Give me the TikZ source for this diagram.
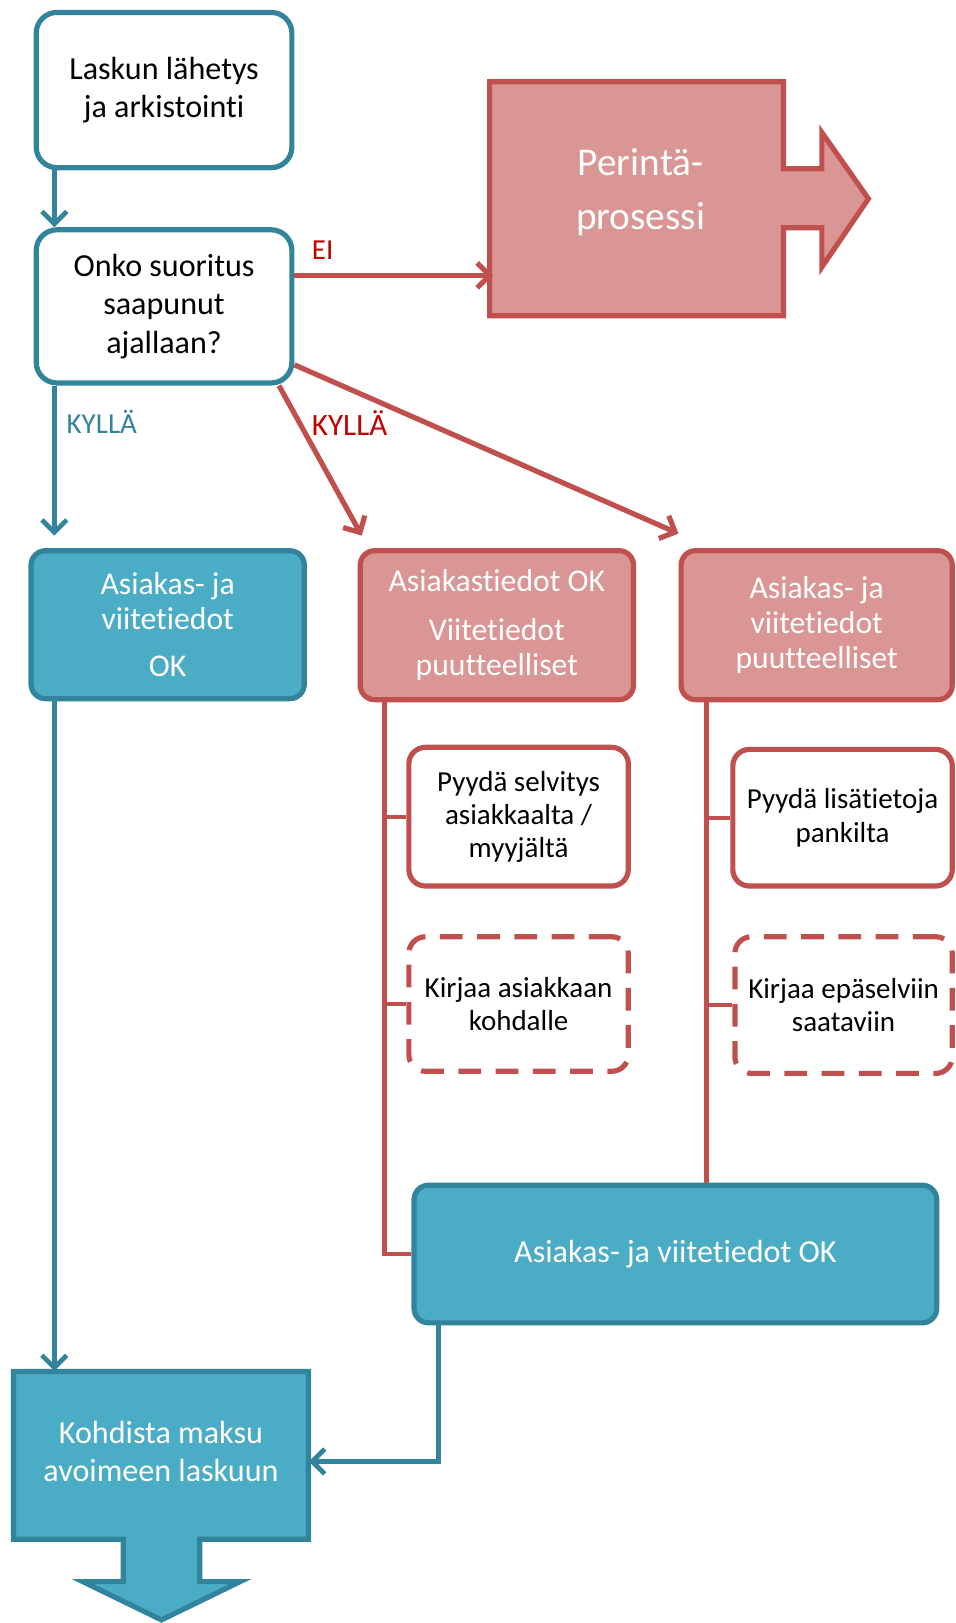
\documentclass[tikz,border=0pt]{standalone}
\usepackage{fontspec}
\setmainfont{Carlito}[Ligatures={NoCommon}]
\usetikzlibrary{arrows.meta}
\definecolor{blueS}{HTML}{31849B}
\definecolor{blueF}{HTML}{4BACC6}
\definecolor{redS}{HTML}{C0504D}
\definecolor{redF}{HTML}{D99694}
\definecolor{lblR}{HTML}{C00000}
\tikzset{
  wbox/.style={draw=blueS, fill=white, line width=2.5pt, rounded corners=10pt, align=center, inner sep=0pt, font=\fontsize{15.5}{18.5}\selectfont},
  bbox/.style={draw=blueS, fill=blueF, line width=2.5pt, rounded corners=7pt, align=center, inner sep=0pt, text=white, font=\fontsize{15.3}{17}\selectfont},
  rbox/.style={draw=redS, fill=redF, line width=2.5pt, rounded corners=7pt, align=center, inner sep=0pt, text=white, font=\fontsize{15.3}{17}\selectfont},
  rwbox/.style={draw=redS, fill=white, line width=2.5pt, rounded corners=8pt, align=center, inner sep=0pt, font=\fontsize{14}{16}\selectfont},
  rdash/.style={rwbox, dash pattern=on 11pt off 7pt},
  barrow/.style={draw=blueS, line width=2.3pt, -{Straight Barb[length=6pt,width=12pt]}},
  rarrow/.style={draw=redS, line width=2.5pt, -{Straight Barb[length=6pt,width=12pt]}},
  rline/.style={draw=redS, line width=2pt},
  lbl/.style={inner sep=0pt, font=\fontsize{14}{16}\selectfont},
  bigshape/.style={line width=2.5pt, line join=miter},
}
\begin{document}
\begin{tikzpicture}[x=0.5pt, y=-0.5pt]
\useasboundingbox (0,0) rectangle (923,1568);

% Perintä shape
\path[bigshape, draw=redS, fill=redF] (473,79) -- (757,79) -- (757,163) -- (794,163) -- (794,128) -- (839,192) -- (794,258) -- (794,220) -- (757,220) -- (757,305) -- (473,305) -- cycle;
\node[inner sep=0pt, minimum width=142pt, minimum height=112pt, align=center, text=white, font=\fontsize{19}{26}\selectfont] (per) at (619,186) {Perintä-\\prosessi};

% Kohdista shape
\path[bigshape, draw=blueS, fill=blueF] (13,1325) -- (298,1325) -- (298,1487) -- (193,1487) -- (193,1528) -- (232,1528) -- (156,1565) -- (80,1528) -- (119,1528) -- (119,1487) -- (13,1487) -- cycle;
\node[inner sep=0pt, minimum width=142.5pt, minimum height=77pt, align=center, text=white, font=\fontsize{15.5}{18.5}\selectfont] (koh) at (155.5,1402) {Kohdista maksu\\avoimeen laskuun};

\node[wbox, minimum width=123.5pt, minimum height=75pt] (b1) at (158.5,87) {Laskun lähetys\\ja arkistointi};
\node[wbox, minimum width=123.5pt, minimum height=74pt] (b2) at (158.5,296) {Onko suoritus\\saapunut\\ajallaan?};

\node[bbox, minimum width=132pt, minimum height=71.5pt] (ok1) at (162,603.5) {Asiakas- ja\\viitetiedot\\[6pt]OK};
\node[rbox, minimum width=132pt, minimum height=72pt] (r1) at (480,604) {Asiakastiedot OK\\[6.5pt]Viitetiedot\\puutteelliset};
\node[rbox, minimum width=131pt, minimum height=72pt] (r2) at (789,604) {Asiakas- ja\\viitetiedot\\puutteelliset};

\node[rwbox, minimum width=106pt, minimum height=67pt] (p1) at (501,789) {Pyydä selvitys\\asiakkaalta /\\myyjältä};
\node[rdash, minimum width=106pt, minimum height=65pt] (d1) at (501,970) {Kirjaa asiakkaan\\kohdalle};
\node[rwbox, minimum width=106pt, minimum height=66pt] (p2) at (814,790) {Pyydä lisätietoja\\pankilta};
\node[rdash, minimum width=105pt, minimum height=66pt] (d2) at (815,971) {Kirjaa epäselviin\\saataviin};

\node[bbox, font=\fontsize{15.5}{17}\selectfont, minimum width=252.5pt, minimum height=66.5pt] (ok2) at (652.5,1211.5) {Asiakas- ja viitetiedot OK};

% labels
\node[lbl, text=lblR, anchor=base west] (lei) at (301,251) {EI};
\node[lbl, text=blueS, anchor=base west] (lk1) at (64,419) {KYLLÄ};
\node[lbl, text=lblR, anchor=base west, font=\fontsize{15}{16}\selectfont] (lk2) at (301,421) {KYLLÄ};

% connectors
\draw[barrow] ([xshift=10pt]b1.south west) -- ([xshift=10pt]b2.north west);
\draw[rarrow] ([yshift=15pt]b2.east) -- ([yshift=15pt]b2.east -| per.west);
\draw[barrow, shorten >=6pt] ([xshift=10pt]b2.south west) -- ([xshift=10pt]b2.south west |- ok1.north);
\draw[rarrow] ([xshift=-7.5pt]b2.south east) -- ([xshift=2pt,yshift=6pt]r1.north west);
\draw[rarrow] ([yshift=10pt]b2.south east) -- ([yshift=7pt]r2.north west);

\draw[barrow] ([xshift=12.5pt]ok1.south west) -- ([xshift=12.5pt]ok1.south west |- koh.north);

\coordinate (r1x) at ([xshift=13pt]r1.south west);
\coordinate (r2x) at ([xshift=13.5pt]r2.south west);
\draw[rline] (r1x) |- (ok2.west);
\draw[rline] (r1x |- p1.west) -- (p1.west);
\draw[rline] (r1x |- d1.west) -- (d1.west);
\draw[rline] (r2x) -- (r2x |- ok2.north);
\draw[rline] (r2x |- p2.west) -- (p2.west);
\draw[rline] (r2x |- d2.west) -- (d2.west);

\draw[barrow] ([xshift=13pt]ok2.south west) |- ([yshift=-5pt]koh.east);
\end{tikzpicture}
\end{document}
